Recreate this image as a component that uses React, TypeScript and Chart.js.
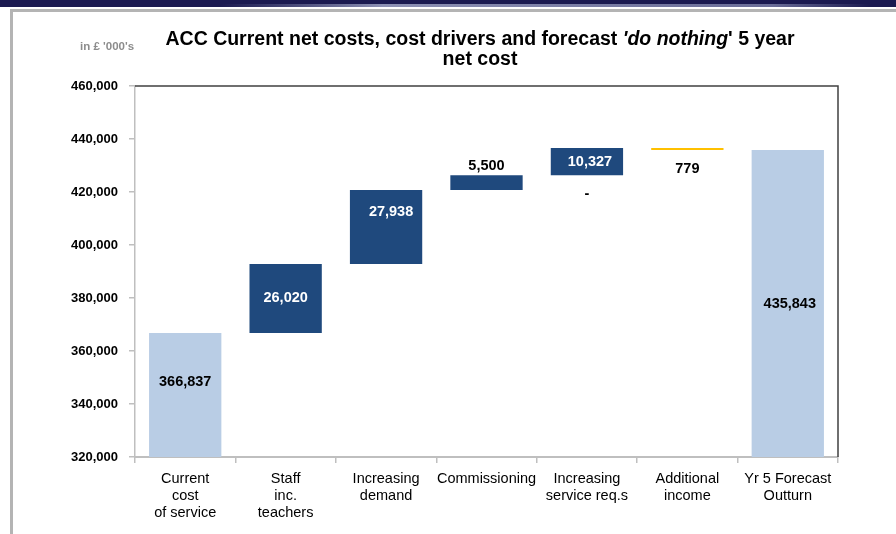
import React, { useEffect, useRef } from "react";
import { Chart, registerables } from "chart.js";

Chart.register(...registerables);

// ---- data ----
const categories: string[][] = [
  ["Current", "cost", "of service"],
  ["Staff", "inc.", "teachers"],
  ["Increasing", "demand"],
  ["Commissioning"],
  ["Increasing", "service req.s"],
  ["Additional", "income"],
  ["Yr 5 Forecast", "Outturn"],
];
const currentCost = 366837;
const driverChanges = [26020, 27938, 5500, 10327, -779];
const forecastOutturn = 435843;
const valueLabels = ["366,837", "26,020", "27,938", "5,500", "10,327", "779", "435,843"];
const zeroLabels = ["", "", "", "", "-", "", ""];
const yMin = 320000;
const yMax = 460000;
const yStep = 20000;

// ---- styles ----
const LIGHT = "#b9cde5";
const DARK = "#1f497d";
const YELLOW = "#ffc000";
const FONT = '"Liberation Sans", Arial, sans-serif';
// label style per bar: color, anchor ('top' | 'center'), dy, dx
const labelStyle = [
  { color: "#000", anchor: "top", dy: 49, dx: 0 },
  { color: "#fff", anchor: "center", dy: 0, dx: 0 },
  { color: "#fff", anchor: "top", dy: 22, dx: 5 },
  { color: "#000", anchor: "top", dy: -9, dx: 0 },
  { color: "#fff", anchor: "center", dy: 0, dx: 3 },
  { color: "#000", anchor: "top", dy: 21, dx: 0 },
  { color: "#000", anchor: "center", dy: 0, dx: 2 },
];

function buildBars(): [number, number][] {
  const bars: [number, number][] = [[yMin, currentCost]];
  let running = currentCost;
  for (const c of driverChanges) {
    bars.push([running, running + c]);
    running += c;
  }
  bars.push([yMin, forecastOutturn]);
  return bars;
}

const decorPlugin = {
  id: "decor",
  beforeDraw(chart: any) {
    const ctx = chart.ctx as CanvasRenderingContext2D;
    const w = chart.width;
    const h = chart.height;
    ctx.save();
    ctx.fillStyle = "#fff";
    ctx.fillRect(0, 0, w, h);
    // header bar
    ctx.fillStyle = "#1b1a50";
    ctx.fillRect(0, 0, w, 7);
    const g = ctx.createLinearGradient(220, 0, 870, 0);
    g.addColorStop(0, "rgba(150,155,190,0)");
    g.addColorStop(0.25, "rgba(170,175,205,0.8)");
    g.addColorStop(0.85, "rgba(160,165,200,0.6)");
    g.addColorStop(1, "rgba(150,155,190,0)");
    ctx.fillStyle = g;
    ctx.fillRect(220, 4, 650, 3);
    // frame lines
    ctx.fillStyle = "#b4b4b4";
    ctx.fillRect(10, 9, w - 10, 3);
    ctx.fillRect(10, 9, 3, h - 9);
    // unit label
    ctx.fillStyle = "#8c8c8c";
    ctx.font = `bold 11.5px ${FONT}`;
    ctx.textAlign = "left";
    ctx.textBaseline = "middle";
    ctx.fillText("in £ '000's", 80, 47);
    // title
    const cx = 480;
    const size = 19.5;
    const parts = [
      { t: "ACC Current net costs, cost drivers and forecast ", f: `bold ${size}px ${FONT}` },
      { t: "'do nothing", f: `italic bold ${size}px ${FONT}` },
      { t: "' 5 year", f: `bold ${size}px ${FONT}` },
    ];
    let total = 0;
    for (const p of parts) {
      ctx.font = p.f;
      total += ctx.measureText(p.t).width;
    }
    let x = cx - total / 2;
    ctx.fillStyle = "#000";
    for (const p of parts) {
      ctx.font = p.f;
      ctx.fillText(p.t, x, 40);
      x += ctx.measureText(p.t).width;
    }
    ctx.font = `bold ${size}px ${FONT}`;
    ctx.textAlign = "center";
    ctx.fillText("net cost", cx, 60);
    ctx.restore();
  },
  afterDraw(chart: any) {
    const ctx = chart.ctx as CanvasRenderingContext2D;
    const a = chart.chartArea;
    ctx.save();
    ctx.strokeStyle = "#404040";
    ctx.lineWidth = 1.5;
    ctx.beginPath();
    ctx.moveTo(a.left, a.top);
    ctx.lineTo(a.right, a.top);
    ctx.lineTo(a.right, a.bottom);
    ctx.stroke();
    // category labels
    const xs = chart.scales.x;
    ctx.fillStyle = "#000";
    ctx.font = `14.5px ${FONT}`;
    ctx.textAlign = "center";
    ctx.textBaseline = "middle";
    categories.forEach((lines, i) => {
      const px = xs.getPixelForValue(i);
      lines.forEach((ln, j) => {
        ctx.fillText(ln, px, a.bottom + 21.5 + j * 17);
      });
    });
    // value labels
    const meta = chart.getDatasetMeta(0);
    ctx.font = `bold 14.5px ${FONT}`;
    meta.data.forEach((bar: any, i: number) => {
      const top = Math.min(bar.y, bar.base);
      const bottom = Math.max(bar.y, bar.base);
      const s = labelStyle[i];
      const y = s.anchor === "center" ? (top + bottom) / 2 + s.dy : top + s.dy;
      ctx.fillStyle = s.color;
      ctx.fillText(valueLabels[i], bar.x + s.dx, y);
      if (zeroLabels[i]) {
        ctx.fillStyle = "#000";
        ctx.fillText(zeroLabels[i], bar.x, bottom + 19);
      }
    });
    ctx.restore();
  },
};

export default function App() {
  const ref = useRef<HTMLCanvasElement | null>(null);
  useEffect(() => {
    document.body.style.margin = "0";
    const bars = buildBars();
    const colors = bars.map((_, i) =>
      i === 0 || i === bars.length - 1 ? LIGHT : driverChanges[i - 1] < 0 ? YELLOW : DARK
    );
    const chart = new Chart(ref.current as HTMLCanvasElement, {
      type: "bar",
      data: {
        labels: categories.map((c) => c.join(" ")),
        datasets: [
          {
            data: bars as any,
            backgroundColor: colors,
            borderWidth: 0,
            categoryPercentage: 1,
            barPercentage: 0.72,
          },
        ],
      },
      options: {
        animation: false,
        responsive: false,
        layout: { padding: { top: 86, right: 58, left: 0, bottom: 0 } },
        plugins: { legend: { display: false }, tooltip: { enabled: false }, title: { display: false } },
        scales: {
          x: {
            grid: { offset: true, drawOnChartArea: false, tickLength: 6, color: "#bfbfbf", lineWidth: 1.5 },
            border: { color: "#bfbfbf", width: 2 },
            ticks: { display: false },
            afterFit(scale: any) {
              scale.height = 77;
            },
          },
          y: {
            min: yMin,
            max: yMax,
            grid: { drawOnChartArea: false, tickLength: 6, color: "#bfbfbf", lineWidth: 1.5 },
            border: { color: "#bfbfbf", width: 1.5 },
            ticks: {
              stepSize: yStep,
              color: "#000",
              padding: 11,
              font: { family: FONT, size: 13, weight: "bold" },
              callback: (v: any) => Number(v).toLocaleString("en-US"),
            },
            afterFit(scale: any) {
              scale.width = 135;
            },
          },
        },
      },
      plugins: [decorPlugin],
    });
    return () => chart.destroy();
  }, []);
  return <canvas ref={ref} width={896} height={534} style={{ display: "block" }} />;
}
